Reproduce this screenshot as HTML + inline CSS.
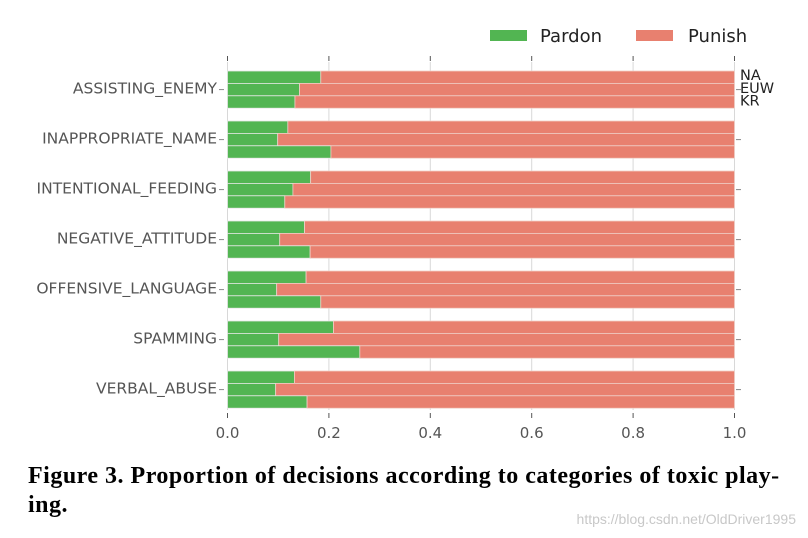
<!DOCTYPE html>
<html><head><meta charset="utf-8"><style>
body{margin:0;background:#fff;width:808px;height:538px;overflow:hidden;position:relative}
svg{position:absolute;left:0;top:0}
.cap{position:absolute;left:28px;top:462px;width:790px;font-family:"Liberation Serif",serif;font-weight:bold;font-size:24px;line-height:29px;color:#000;letter-spacing:0.5px;white-space:nowrap}
.wm{position:absolute;right:12px;top:511px;font-family:"Liberation Sans",sans-serif;font-size:14px;color:#c8c8c8}
</style></head><body>
<svg id="chart" width="808" height="538" font-family="DejaVu Sans, Liberation Sans, sans-serif"></svg>
<div class="cap">Figure 3. Proportion of decisions according to categories of toxic play-<br>ing.</div>
<div class="wm">https://blog.csdn.net/OldDriver1995</div>
<script>
const categories=["ASSISTING_ENEMY","INAPPROPRIATE_NAME","INTENTIONAL_FEEDING","NEGATIVE_ATTITUDE","OFFENSIVE_LANGUAGE","SPAMMING","VERBAL_ABUSE"];
const regions=["NA","EUW","KR"];
const pardonNA=[0.184,0.119,0.164,0.152,0.155,0.209,0.132];
const pardonEUW=[0.142,0.099,0.129,0.103,0.097,0.101,0.095];
const pardonKR=[0.133,0.204,0.113,0.163,0.184,0.261,0.157];
const xTicks=[0,0.2,0.4,0.6,0.8,1.0];
const xTickLabels=["0.0","0.2","0.4","0.6","0.8","1.0"];
const series=[pardonNA,pardonEUW,pardonKR];
const NS="http://www.w3.org/2000/svg";
const svg=document.getElementById('chart');
const X0=227.5,X1=734.5;
const x=v=>X0+v*(X1-X0);
const groupTop=i=>71+i*50;
const barH=12.4;
function mk(t,a){const e=document.createElementNS(NS,t);for(const k in a)e.setAttribute(k,a[k]);svg.appendChild(e);return e;}
xTicks.forEach((t,i)=>{
  const g=mk('line',{x1:x(t),x2:x(t),y1:62,y2:410,stroke:'#d8d8d8','stroke-width':1});
  
  
  const tk=mk('line',{x1:x(t),x2:x(t),y1:413,y2:418,stroke:'#555','stroke-width':1});
  
  
  const tt=mk('line',{x1:x(t),x2:x(t),y1:56,y2:61,stroke:'#555','stroke-width':1});
  
  
  const l=mk('text',{x:x(t),y:438,'text-anchor':'middle','font-size':15,fill:'#555'});
  l.textContent=xTickLabels[i];
  
  
});
categories.forEach((c,i)=>{
  series.forEach((s,j)=>{
    const y=groupTop(i)+j*barH;
    const p=mk('rect',{x:x(0),y:y,width:x(s[i])-x(0),height:barH,fill:'#52b552',stroke:'#e8e8e8','stroke-width':0.8});
    
    
    const r=mk('rect',{x:x(s[i]),y:y,width:x(1)-x(s[i]),height:barH,fill:'#e8806f',stroke:'#f0d0c8','stroke-width':0.8});
    
    
  });
  const cy=groupTop(i)+barH*1.5;
  const l=mk('text',{x:217,y:cy+4,'text-anchor':'end','font-size':15.5,fill:'#555'});
  l.textContent=categories[i];
  
  
  const t1=mk('line',{x1:219,x2:224,y1:cy,y2:cy,stroke:'#888'});
  
  
  const t2=mk('line',{x1:736,x2:741,y1:cy,y2:cy,stroke:'#888'});
  
  
});
regions.forEach((r,j)=>{
  const t=mk('text',{x:740,y:80+j*12.8,'font-size':14.5,fill:'#222'});
  t.textContent=r;
  
  
});
const lg=[["Pardon","#52b552",490,540],["Punish","#e8806f",636,688]];
lg.forEach(d=>{
  const s=mk('rect',{x:d[2],y:30,width:37,height:11,fill:d[1]});
  
  
  const t=mk('text',{x:d[3],y:42,'font-size':18,fill:'#222'});
  t.textContent=d[0];
  
  
});
</script>
</body></html>
